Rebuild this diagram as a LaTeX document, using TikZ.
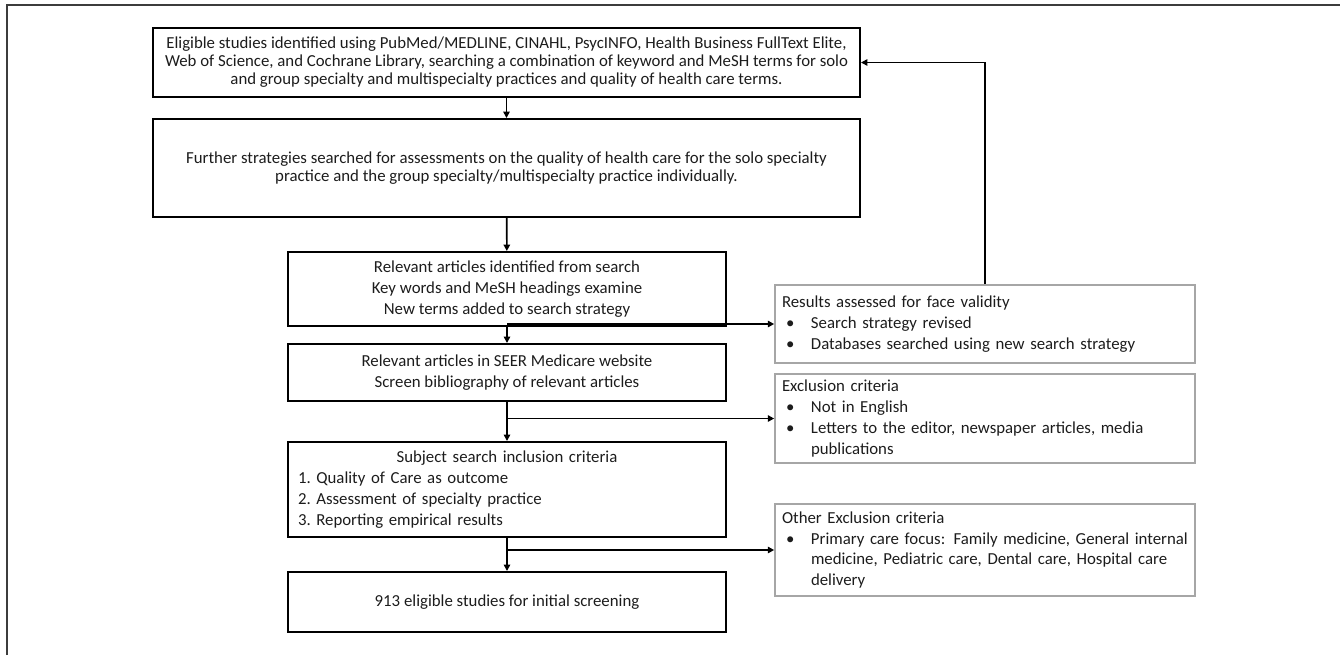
\documentclass[tikz,border=0pt]{standalone}
\usepackage{fontspec}
\setmainfont{Carlito}
\usetikzlibrary{arrows.meta,positioning}
\definecolor{FlowInk}{HTML}{1C1C1C}
\definecolor{FlowFrame}{HTML}{3C3C3C}
\definecolor{FlowNote}{HTML}{A6A6A6}
\newcommand{\itm}[1]{\makebox[14.5pt][l]{\hspace{2pt}\textbullet}\mbox{#1}}
\newcommand{\cont}[1]{\hspace*{14.5pt}\mbox{#1}}
\tikzset{
  every node/.style={font=\fontsize{8.4pt}{10.4pt}\selectfont, text=FlowInk},
  stage/.style={draw=black, line width=1pt, align=center, inner sep=0pt},
  widestage/.style={stage, minimum width=353.5pt, font=\fontsize{8.4pt}{9pt}\selectfont},
  sidenote/.style={draw=FlowNote, line width=0.8pt, align=left, text width=203pt, inner xsep=3.5pt, inner ysep=0pt},
  flow/.style={-{Triangle[length=3.2pt,width=3.2pt]}, draw=black, line width=0.8pt},
}

\begin{document}
\begin{tikzpicture}[x=0.5pt,y=-0.5pt]
  \useasboundingbox (0,0) rectangle (1340,655);
  % Cropped frame
  \draw[FlowFrame, line width=1pt] (7,655) -- (7,5) -- (1340,5);
  % Main column
  \node[widestage, minimum height=34.5pt] (search) at (506.5,62.5)
    {Eligible studies identified using PubMed/MEDLINE, CINAHL, PsycINFO, Health Business FullText Elite,\\
     Web of Science, and Cochrane Library, searching a combination of keyword and MeSH terms for solo\\
     and group specialty and multispecialty practices and quality of health care terms.};
  \node[widestage, minimum height=49pt] (further) at (506.5,168)
    {Further strategies searched for assessments on the quality of health care for the solo specialty\\
     practice and the group specialty/multispecialty practice individually.};
  \node[stage, minimum width=219pt, minimum height=37pt] (relevant) at (507,289)
    {Relevant articles identified from search\\ Key words and MeSH headings examine\\ New terms added to search strategy};
  \node[stage, minimum width=219pt, minimum height=28.5pt] (seer) at (507,372.5)
    {Relevant articles in SEER Medicare website\\ Screen bibliography of relevant articles};
  \node[stage, align=left, text width=209pt, inner xsep=5pt, minimum height=47.5pt] (inclusion) at (507,489.5)
    {\makebox[\linewidth]{Subject search inclusion criteria}\\
     1.\ Quality of Care as outcome\\ 2.\ Assessment of specialty practice\\ 3.\ Reporting empirical results};
  \node[stage, minimum width=219pt, minimum height=30pt] (eligible) at (507,602)
    {913 eligible studies for initial screening};
  % Side notes
  \node[sidenote, minimum height=39pt] (validity) at (985,324)
    {Results assessed for face validity\\
     \itm{Search strategy revised}\\
     \itm{Databases searched using new search strategy}};
  \node[sidenote, minimum height=44.5pt] (exclusion) at (985,418.5)
    {Exclusion criteria\\
     \itm{Not in English}\\
     \itm{Letters to the editor, newspaper articles, media}\\
     \cont{publications}};
  \node[sidenote, minimum height=46pt] (other) at (985,550)
    {Other Exclusion criteria\\
     \itm{Primary care focus: Family medicine, General internal}\\
     \cont{medicine, Pediatric care, Dental care, Hospital care}\\
     \cont{delivery}};
  % Connectors
  \draw[flow] (search) -- (further);
  \draw[flow] (further) -- (relevant);
  \draw[flow] (relevant) -- (seer);
  \draw[flow] (seer) -- (inclusion);
  \draw[flow] (inclusion) -- (eligible);
  \draw[flow] (relevant.south |- validity.west) -- (validity.west);
  \draw[flow] (seer.south |- exclusion.west) -- (exclusion.west);
  \draw[flow] (inclusion.south |- other.west) -- (other.west);
  \draw[flow] (validity.north) |- (search.east);
\end{tikzpicture}
\end{document}
